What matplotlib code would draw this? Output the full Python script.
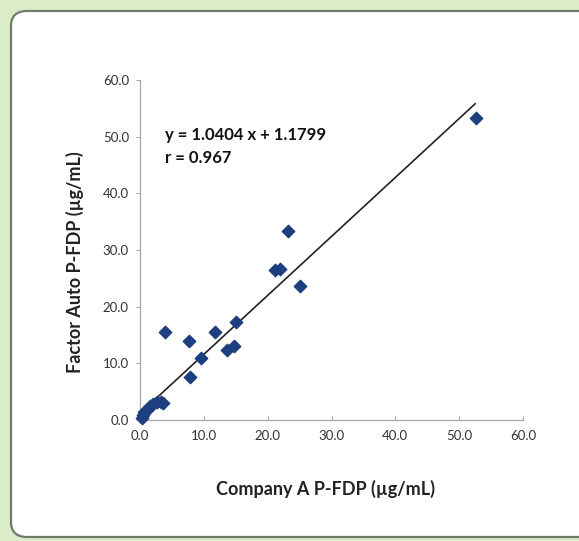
import matplotlib
matplotlib.use("Agg")
import matplotlib.pyplot as plt
from matplotlib.patches import FancyBboxPatch
import numpy as np

company_a = [0.3, 0.4, 0.6, 1.1, 1.6, 2.0, 2.7, 3.3, 3.6,
             3.9, 7.7, 7.8, 9.6, 11.8, 13.6, 14.7, 15.0,
             21.2, 21.9, 23.2, 25.1, 52.7]
factor_auto = [0.4, 0.8, 1.4, 1.8, 2.5, 2.8, 3.2, 3.2, 3.0,
               15.6, 13.9, 7.6, 11.0, 15.5, 12.3, 13.0, 17.3,
               26.4, 26.6, 33.3, 23.6, 53.3]
slope = 1.0404
intercept = 1.1799
r_value = 0.967
fit_x = [0.0, 52.5]
ticks = [0, 10, 20, 30, 40, 50, 60]
tick_labels = ["0.0", "10.0", "20.0", "30.0", "40.0", "50.0", "60.0"]
x_label = "Company A P-FDP (µg/mL)"
y_label = "Factor Auto P-FDP (µg/mL)"

W, H = 579, 541
fig = plt.figure(figsize=(W / 100, H / 100), dpi=100)
fig.patch.set_facecolor("#dbecc8")

panel = FancyBboxPatch((11 / W, 4 / H), 1.2, (H - 11 - 4) / H,
                       boxstyle="round,pad=0,rounding_size=0.028",
                       transform=fig.transFigure, facecolor="white",
                       edgecolor="#6f7a6a", linewidth=1.6, zorder=-10)
fig.patches.append(panel)

ax = fig.add_axes([140 / W, 1 - 420 / H, (523 - 140) / W, (420 - 80) / H])
ax.set_zorder(5)
ax.set_facecolor("none")
ax.set_xlim(0, 60)
ax.set_ylim(0, 60)

fx = np.array(fit_x)
ax.plot(fx, slope * fx + intercept, color="#222222", lw=1.2, zorder=2)
ax.scatter(company_a, factor_auto, marker="D", s=40, color="#1d3f80",
           edgecolors="#1d3f80", zorder=3, clip_on=False)

for s in ["top", "right"]:
    ax.spines[s].set_visible(False)
for s in ["left", "bottom"]:
    ax.spines[s].set_color("#a8a8a8")
    ax.spines[s].set_linewidth(0.9)

font = ["Lato", "DejaVu Sans"]
ax.set_xticks(ticks)
ax.set_xticklabels(tick_labels, fontsize=9.5, color="#333333", family=font)
ax.set_yticks(ticks)
ax.set_yticklabels(tick_labels, fontsize=9.5, color="#333333", family=font)
ax.tick_params(axis="x", direction="in", length=3, color="#a8a8a8", pad=7)
ax.tick_params(axis="y", direction="out", length=3, color="#a8a8a8", pad=5)

fig.text(325 / W, 1 - 489 / H, x_label, fontsize=13, fontweight="bold",
         family=font, color="#222222", ha="center", va="center")
fig.text(75 / W, 1 - 262 / H, y_label, fontsize=13, fontweight="bold",
         family=font, color="#222222", ha="center", va="center", rotation=90)

ax.text(3.9, 50.3, f"y = {slope:.4f} x + {intercept:.4f}", fontsize=12,
        fontweight="bold", family=font, va="center", ha="left", color="#111111")
ax.text(3.9, 46.2, f"r = {r_value:.3f}", fontsize=12, fontweight="bold",
        family=font, va="center", ha="left", color="#111111")

fig.savefig("out.png", dpi=100)
